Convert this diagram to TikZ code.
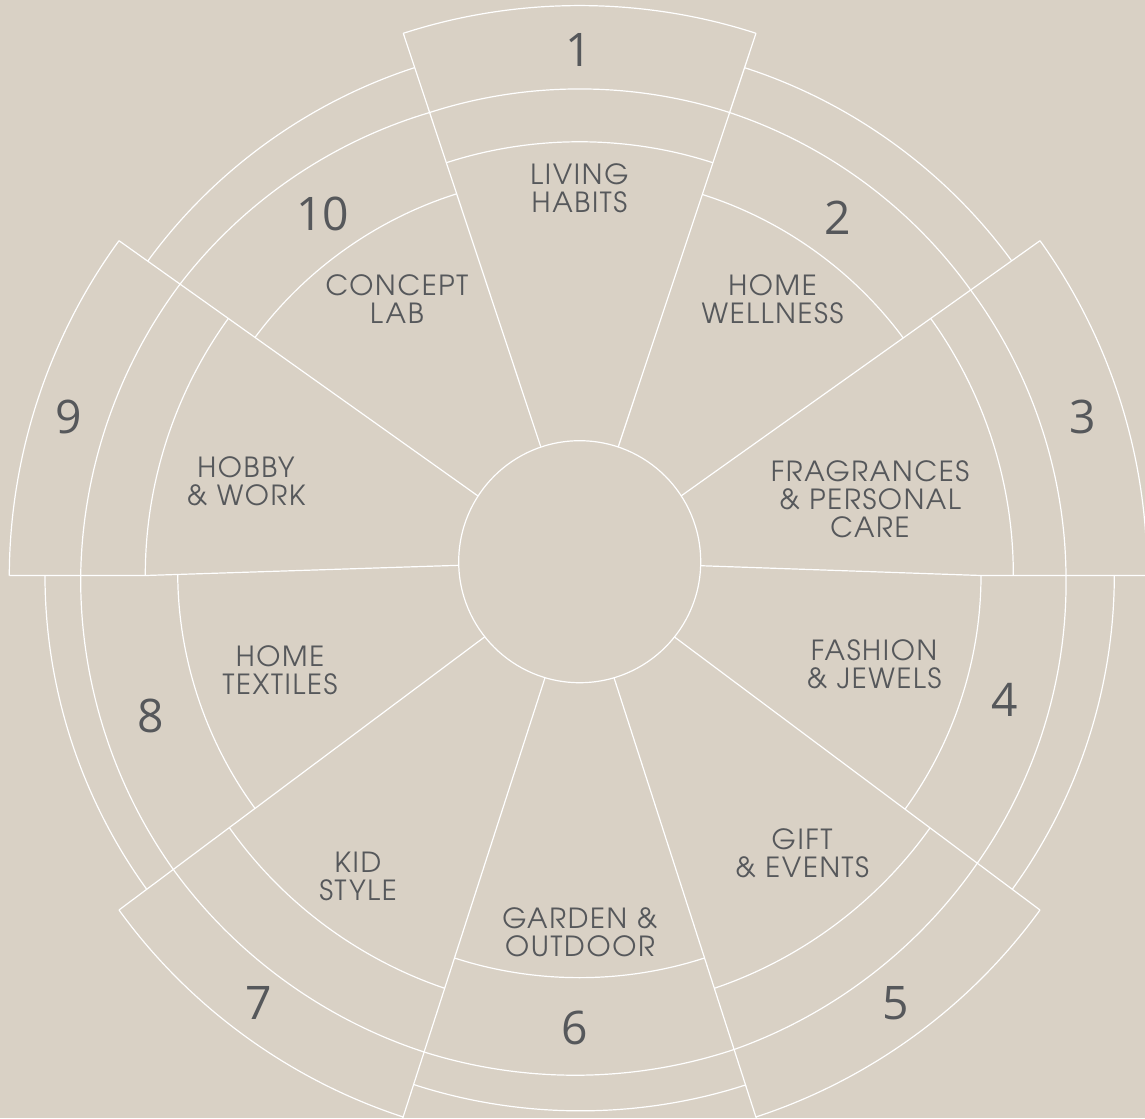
\documentclass[tikz,border=0pt]{standalone}
\usepackage{fontspec}
\usetikzlibrary{calc}
\newfontfamily\labfont{TeX Gyre Adventor}[LetterSpace=6]
\newfontfamily\numfont{Open Sans}
\definecolor{bg}{HTML}{D9D1C5}
\definecolor{ink}{HTML}{56585B}
\begin{document}
\begin{tikzpicture}[x=0.75pt,y=-0.75pt,
  wl/.style={draw=white, line width=0.9pt},
  bendarc/.style={bend left=18, looseness=0.87},
  lab/.style={font=\labfont\fontsize{20.8}{21}\selectfont, text=ink, align=center, inner sep=0pt},
  num/.style={font=\numfont\fontsize{34.7}{40}\selectfont, text=ink, inner sep=0pt}]
\useasboundingbox (0,0) rectangle (1145,1118);
\fill[bg] (0,0) rectangle (1145,1118);
\clip (0,0) rectangle (1145,1118);

% hub
\coordinate (c0) at (579.7,561.7);
\node[circle, wl, minimum size=181.5pt, inner sep=0pt, outer sep=0pt] (hub) at (c0) {};

% edge end points
\coordinate (b10i) at (540.7,446.7); \coordinate (b10o) at (403.3,33.3);
\coordinate (b1i) at (618.3,446.7);  \coordinate (b1o) at (756,33.3);
\coordinate (b2i) at (681,496);      \coordinate (b2o) at (1040,240.7);
\coordinate (b3i) at (700.7,565.7);  \coordinate (b3k) at (981,575.5);  \coordinate (b3o) at (1147,575.5);
\coordinate (b4i) at (674.5,637);    \coordinate (b4o) at (1040,910);
\coordinate (b5i) at (614,677.7);    \coordinate (b5o) at (757.5,1122);
\coordinate (b6i) at (545,677.7);    \coordinate (b6o) at (401.5,1122);
\coordinate (b7i) at (484.5,637);    \coordinate (b7o) at (119,910);
\coordinate (b8i) at (458.7,565.3);  \coordinate (b8k) at (145.3,575.5); \coordinate (b8o) at (9.3,575.5);
\coordinate (b9i) at (478,496);      \coordinate (b9o) at (119,240.7);

% points on edges where arcs end
\coordinate (q10a) at ($(b10i)!(456,194)!(b10o)$);
\coordinate (q10b) at ($(b10i)!(446.3,162.7)!(b10o)$);
\coordinate (q10c) at ($(b10i)!(429.6,112.5)!(b10o)$);
\coordinate (q10d) at ($(b10i)!(414.3,67.7)!(b10o)$);

\coordinate (q1a) at ($(b1i)!(712.9,162.7)!(b1o)$);
\coordinate (q1b) at ($(b1i)!(702.5,194.5)!(b1o)$);
\coordinate (q1c) at ($(b1i)!(729.6,112.5)!(b1o)$);
\coordinate (q1d) at ($(b1i)!(744.8,67.7)!(b1o)$);

\coordinate (q2a) at ($(b2i)!(903.3,338)!(b2o)$);
\coordinate (q2b) at ($(b2i)!(930.7,318.4)!(b2o)$);
\coordinate (q2c) at ($(b2i)!(970.7,290)!(b2o)$);
\coordinate (q2d) at ($(b2i)!(1011.7,260.8)!(b2o)$);

\coordinate (q3a) at (1013.3,575.5);
\coordinate (q3c) at (1066,575.5);
\coordinate (q3d) at (1114.3,575.5);

\coordinate (q4a) at ($(b4i)!(905,809.2)!(b4o)$);
\coordinate (q4b) at ($(b4i)!(930,827.9)!(b4o)$);
\coordinate (q4c) at ($(b4i)!(977.3,863.2)!(b4o)$);
\coordinate (q4d) at ($(b4i)!(1012.3,889.3)!(b4o)$);

\coordinate (q5a) at ($(b5i)!(704.5,958)!(b5o)$);
\coordinate (q5b) at ($(b5i)!(714.3,988.3)!(b5o)$);
\coordinate (q5c) at ($(b5i)!(734.1,1049.5)!(b5o)$);
\coordinate (q5d) at ($(b5i)!(745.5,1085)!(b5o)$);
\coordinate (q5e) at ($(b5i)!(755.9,1117)!(b5o)$);

\coordinate (q6a) at ($(b6i)!(454.5,958)!(b6o)$);
\coordinate (q6b) at ($(b6i)!(444.7,988.3)!(b6o)$);
\coordinate (q6c) at ($(b6i)!(424.1,1052)!(b6o)$);
\coordinate (q6d) at ($(b6i)!(413.6,1084.5)!(b6o)$);
\coordinate (q6e) at ($(b6i)!(403.1,1117)!(b6o)$);

\coordinate (q7a) at ($(b7i)!(255,808.4)!(b7o)$);
\coordinate (q7b) at ($(b7i)!(229.3,827.6)!(b7o)$);
\coordinate (q7c) at ($(b7i)!(173.3,869.5)!(b7o)$);
\coordinate (q7d) at ($(b7i)!(146.7,889.3)!(b7o)$);

\coordinate (q8a) at ($(b8i)!(177.7,574.4)!(b8k)$);
\coordinate (q8c) at (80.7,575.5);
\coordinate (q8d) at (45,575.5);

\coordinate (q9a) at ($(b9i)!(255,337.4)!(b9o)$);
\coordinate (q9b) at ($(b9i)!(228.3,318.4)!(b9o)$);
\coordinate (q9c) at ($(b9i)!(180,284.1)!(b9o)$);
\coordinate (q9d) at ($(b9i)!(147.7,261.1)!(b9o)$);

% radial edges
\draw[wl] (b10i) -- (b10o);
\draw[wl] (b1i) -- (b1o);
\draw[wl] (b2i) -- (b2o);
\draw[wl] (b3i) -- (b3k) -- (b3o);
\draw[wl] (b4i) -- (b4o);
\draw[wl] (b5i) -- (b5o);
\draw[wl] (b6i) -- (b6o);
\draw[wl] (b7i) -- (b7o);
\draw[wl] (b8i) -- (b8k) -- (b8o);
\draw[wl] (b9i) -- (b9o);

% arcs, each drawn clockwise
% sector 1
\draw[wl] (q10b) to[bendarc] (q1a);
\draw[wl] (q10c) to[bendarc] (q1c);
\draw[wl] (b10o) to[bendarc] (b1o);
% sector 2
\draw[wl] (q1b) to[bendarc] (q2a);
\draw[wl] (q1c) to[bendarc] (q2c);
\draw[wl] (q1d) to[bendarc] (q2d);
% sector 3
\draw[wl] (q2b) to[bendarc] (q3a);
\draw[wl] (q2c) to[bendarc] (q3c);
\draw[wl] (b2o) to[bendarc] (b3o);
% sector 4
\draw[wl] (b3k) to[bendarc] (q4a);
\draw[wl] (q3c) to[bendarc] (q4c);
\draw[wl] (q3d) to[bendarc] (q4d);
% sector 5
\draw[wl] (q4b) to[bendarc] (q5b);
\draw[wl] (q4c) to[bendarc] (q5c);
\draw[wl] (b4o) to[bendarc] (q5e);
% sector 6
\draw[wl] (q5a) to[bendarc] (q6a);
\draw[wl] (q5c) to[bendarc] (q6c);
\draw[wl] (q5d) to[bendarc] (q6d);
% sector 7
\draw[wl] (q6b) to[bendarc] (q7b);
\draw[wl] (q6c) to[bendarc] (q7c);
\draw[wl] (q6e) to[bendarc] (b7o);
% sector 8
\draw[wl] (q7a) to[bendarc] (q8a);
\draw[wl] (q7c) to[bendarc] (q8c);
\draw[wl] (q7d) to[bendarc] (q8d);
% sector 9
\draw[wl] (b8k) to[bendarc] (q9b);
\draw[wl] (q8c) to[bendarc] (q9c);
\draw[wl] (b8o) to[bendarc] (b9o);
% sector 10
\draw[wl] (q9a) to[bendarc] (q10a);
\draw[wl] (q9c) to[bendarc] (q10c);
\draw[wl] (q9d) to[bendarc] (q10d);

% numbers
\node[num] (n1) at (578.3,49.7) {1};
\node[num] (n2) at (838,218) {2};
\node[num] (n3) at (1082.5,416.7) {3};
\node[num] (n4) at (1005,700) {4};
\node[num] (n5) at (896,1003) {5};
\node[num] (n6) at (574.7,1027.5) {6};
\node[num] (n7) at (258.3,1003.3) {7};
\node[num] (n8) at (150.5,716.3) {8};
\node[num] (n9) at (69,416.7) {9};
\node[num] (n10) at (322.5,213.7) {10};

% category labels
\node[lab] (t1) at (579.5,188.7) {LIVING\\HABITS};
\node[lab] (t2) at (772.5,299.7) {HOME\\WELLNESS};
\node[lab] (t3) at (870,498.8) {FRAGRANCES\\\& PERSONAL\\CARE};
\node[lab] (t4) at (874,664.5) {FASHION\\\& JEWELS};
\node[lab] (t5) at (802,852.8) {GIFT\\\& EVENTS};
\node[lab] (t6) at (580,932) {GARDEN \&\\OUTDOOR};
\node[lab] (t7) at (358,876.8) {KID\\STYLE};
\node[lab] (t8) at (280,670) {HOME\\TEXTILES};
\node[lab] (t9) at (246,481) {HOBBY\\\& WORK};
\node[lab] (t10) at (397,299) {CONCEPT\\LAB};
\end{tikzpicture}
\end{document}
